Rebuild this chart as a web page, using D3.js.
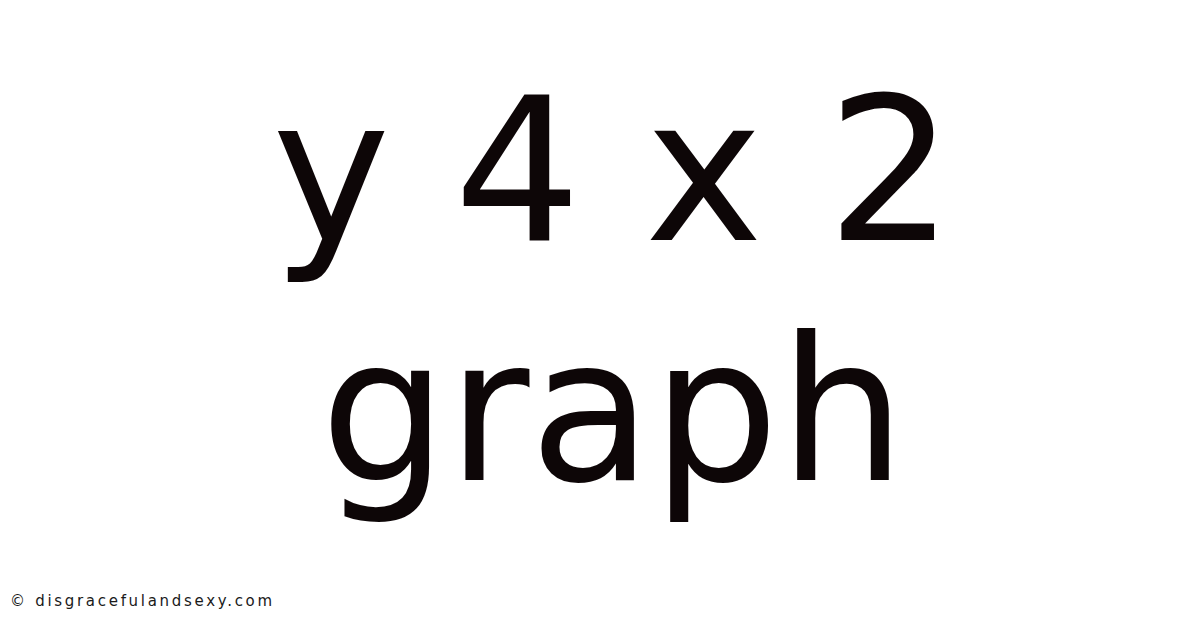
<!DOCTYPE html>
<html>
<head>
<meta charset="utf-8">
<script src="https://cdn.jsdelivr.net/npm/d3@7"></script>
<style>
  html, body { margin: 0; padding: 0; background: #fff; }
</style>
</head>
<body>
<div id="graph"></div>
<script>
// title lines and footer text
var titleLines = ['y 4 x 2', 'graph'];
var lineBaselines = [240, 480];
var footerText = ['© disgracefulandsexy.com'];

var width = 1200,
    height = 628;

var ink = '#0d0607';

var svg = d3.select('#graph')
    .append('svg')
        .attr('width', width)
        .attr('height', height);

svg.append('rect')
    .attr('width', width)
    .attr('height', height)
    .attr('fill', '#fff');

// the title block sits a little right of centre
svg.selectAll('text.title')
    .data(titleLines)
    .enter()
    .append('text')
        .attr('class', 'title')
        .attr('x', width / 2 + 13)
        .attr('y', function(d, i) { return lineBaselines[i]; })
        .attr('text-anchor', 'middle')
        .attr('font-family', 'DejaVu Sans')
        .attr('font-size', 200)
        .attr('fill', ink)
        .text(function(d) { return d; });

svg.selectAll('text.footer')
    .data(footerText)
    .enter()
    .append('text')
        .attr('class', 'footer')
        .attr('x', 10)
        .attr('y', 606)
        .attr('font-family', 'DejaVu Sans')
        .attr('font-size', 15)
        .attr('letter-spacing', 2.7)
        .attr('fill', '#1a1a1a')
        .text(function(d) { return d; });
</script>
</body>
</html>
